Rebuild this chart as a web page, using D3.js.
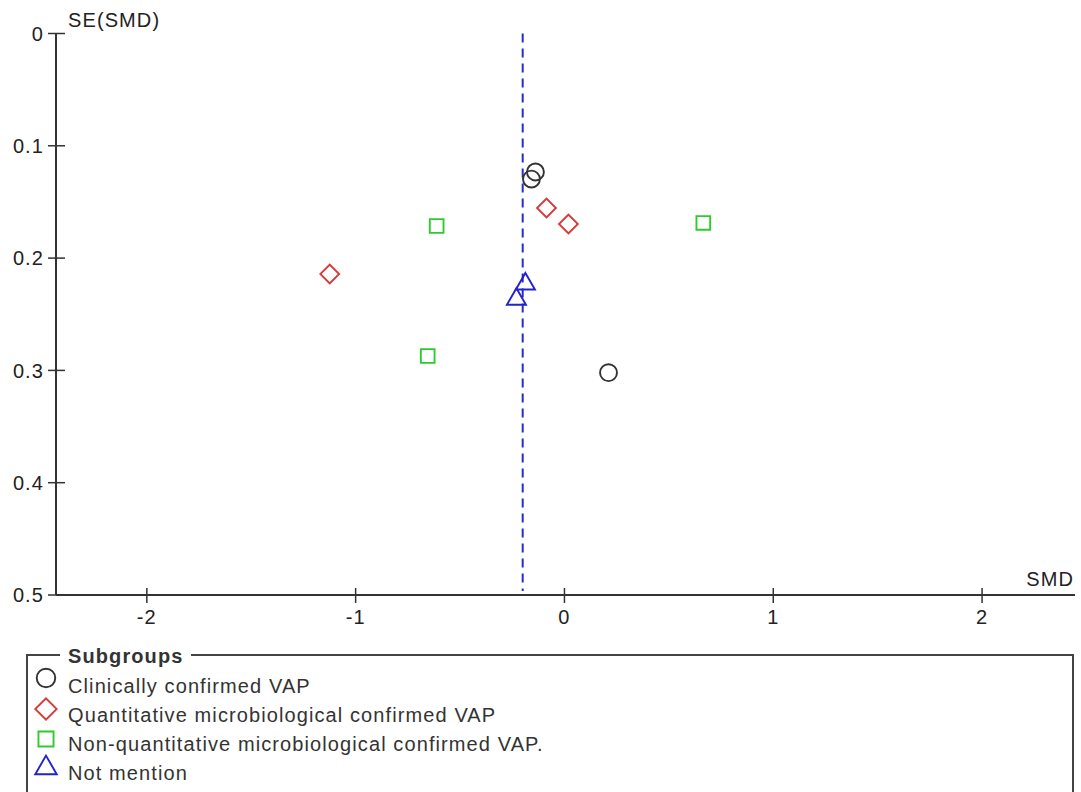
<!DOCTYPE html>
<html><head><meta charset="utf-8">
<script src="https://cdn.jsdelivr.net/npm/d3@7"></script>
<style>
body{margin:0;background:#fff;}
svg{display:block;}
text{font-family:"Liberation Sans",Arial,sans-serif;letter-spacing:1.1px;}
</style></head>
<body><svg id="c" width="1081" height="792"></svg>
<script>
// Data
const groups = ["Clinically confirmed VAP","Quantitative microbiological confirmed VAP","Non-quantitative microbiological confirmed VAP.","Not mention"];
const clinicalSMD = [-0.139,-0.158,0.211];
const clinicalSE  = [0.1233,0.1296,0.302];
const quantSMD = [-0.086,0.019,-1.124];
const quantSE  = [0.1554,0.1696,0.2142];
const nonQuantSMD = [-0.612,-0.655,0.665];
const nonQuantSE  = [0.1714,0.2872,0.1687];
const notMentionSMD = [-0.187,-0.230];
const notMentionSE  = [0.223,0.2366];
const pooledSMD = -0.20;
const xTicks = [-2,-1,0,1,2];
const yTicks = [0,0.1,0.2,0.3,0.4,0.5];

const svg = d3.select("#c");
const x = d3.scaleLinear().domain([-2.435,2.445]).range([56,1075]);
const y = d3.scaleLinear().domain([0,0.5]).range([33.5,595]);
const axisCol = "#333";
const fs = 20;

// axes lines
svg.append("line").attr("x1",x.range()[0]).attr("x2",x.range()[1]).attr("y1",y(0.5)).attr("y2",y(0.5)).attr("stroke",axisCol).attr("stroke-width",2);
svg.append("line").attr("x1",56).attr("x2",56).attr("y1",y(0)).attr("y2",y(0.5)).attr("stroke",axisCol).attr("stroke-width",2);

// y ticks
yTicks.forEach(t=>{
  svg.append("line").attr("x1",48).attr("x2",65).attr("y1",y(t)).attr("y2",y(t)).attr("stroke",axisCol).attr("stroke-width",1.5);
  svg.append("text").attr("x",44).attr("y",y(t)).attr("dy","0.36em").attr("text-anchor","end")
    .attr("font-size",fs).attr("fill","#222").text(t===0?"0":d3.format(".1f")(t));
});
// x ticks
xTicks.forEach(t=>{
  svg.append("line").attr("x1",x(t)).attr("x2",x(t)).attr("y1",588).attr("y2",603).attr("stroke",axisCol).attr("stroke-width",1.5);
  svg.append("text").attr("x",x(t)).attr("y",617).attr("dy","0.36em").attr("text-anchor","middle")
    .attr("font-size",fs).attr("fill","#222").text(t<0?"-"+Math.abs(t):String(t));
});
svg.append("text").attr("x",68).attr("y",20).attr("dy","0.36em").attr("font-size",fs).attr("fill","#222").text("SE(SMD)");
svg.append("text").attr("x",1074).attr("y",579).attr("dy","0.36em").attr("text-anchor","end").attr("font-size",fs).attr("fill","#222").text("SMD");

// pooled line
svg.append("line").attr("x1",x(pooledSMD)).attr("x2",x(pooledSMD)).attr("y1",y(0)).attr("y2",y(0.5)-4)
  .attr("stroke","#2a2ad0").attr("stroke-width",2).attr("stroke-dasharray","9,6");

const styles = [
  {col:"#333333", sym:d3.symbolCircle, size:225, lsize:270},
  {col:"#d63a3a", sym:d3.symbolSquare2, size:225, lsize:290},
  {col:"#2ccc2c", sym:d3.symbolSquare2, size:240, lsize:290},
  {col:"#2323cc", sym:d3.symbolTriangle2, size:260, lsize:330}
];
const series = [
  clinicalSMD.map((v,i)=>({smd:v,se:clinicalSE[i],g:0})),
  quantSMD.map((v,i)=>({smd:v,se:quantSE[i],g:1})),
  nonQuantSMD.map((v,i)=>({smd:v,se:nonQuantSE[i],g:2})),
  notMentionSMD.map((v,i)=>({smd:v,se:notMentionSE[i],g:3}))
];
function sym(g,legend){
  const s=styles[g];
  return d3.symbol().type(s.sym).size(legend?s.lsize:s.size)();
}
series.forEach(arr=>{
  svg.append("g").selectAll("path").data(arr).join("path")
    .attr("d",d=>sym(d.g,false))
    .attr("transform",d=>`translate(${x(d.smd)},${y(d.se)})`+(d.g===1?" rotate(45)":""))
    .attr("fill","none").attr("stroke",d=>styles[d.g].col).attr("stroke-width",1.9);
});

// legend
const lg = svg.append("g");
const lc="#444";
lg.append("path").attr("d","M60,655 H27 V800 M1073,800 V655 H191").attr("fill","none").attr("stroke",lc).attr("stroke-width",2);
lg.append("text").attr("x",68).attr("y",656).attr("dy","0.36em").attr("font-size",fs).attr("font-weight","bold").attr("letter-spacing","0.9px").attr("fill","#333").text("Subgroups");
const ly=[686,715,744,773];
const sy=[678,709,739,768];
groups.forEach((g,i)=>{
  lg.append("path").attr("d",sym(i,true)).attr("transform",`translate(46,${sy[i]})`+(i===1?" rotate(45)":""))
    .attr("fill","none").attr("stroke",styles[i].col).attr("stroke-width",1.9);
  lg.append("text").attr("x",68).attr("y",ly[i]).attr("dy","0.36em").attr("font-size",fs).attr("fill","#333").text(g);
});
</script></body></html>
